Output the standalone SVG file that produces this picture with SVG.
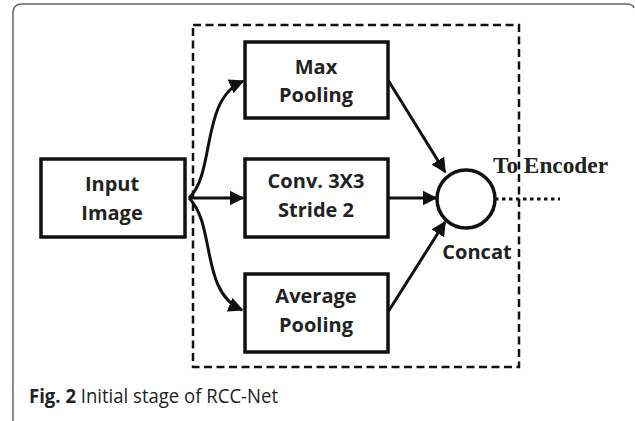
<svg xmlns="http://www.w3.org/2000/svg" width="635" height="421" viewBox="0 0 635 421">
<defs>
<style>
.box{fill:#fff;stroke:#111;stroke-width:3.5}
.lbl{font-family:"Open Sans","Liberation Sans",sans-serif;font-weight:bold;font-size:20px;fill:#222;text-anchor:middle}
.conn{fill:none;stroke:#111;stroke-width:3;marker-end:url(#ah)}
.cap{font-family:"Open Sans","Liberation Sans",sans-serif;font-size:20px;fill:#222}
</style>
<marker id="ah" viewBox="0 0 10 10" refX="9" refY="5" markerWidth="5" markerHeight="5" orient="auto" markerUnits="strokeWidth">
<path d="M0,0 L10,5 L0,10 z" fill="#111"/>
</marker>
</defs>
<rect width="635" height="421" fill="#fff"/>
<path d="M13,421 L13,13 Q13,4 22,4 L626,4 Q633,4 634,8" fill="none" stroke="#666" stroke-width="1.5"/>
<rect id="stage" x="193" y="25" width="326" height="342" fill="none" stroke="#111" stroke-width="2.5" stroke-dasharray="8,4.5"/>
<g id="connectors">
<path class="conn" d="M189,198 C216,172 200,100 243,81"/>
<path class="conn" d="M189,198 L243,198"/>
<path class="conn" d="M189,198 C216,225 200,292 242,310"/>
<path class="conn" d="M388,80 L445,172"/>
<path class="conn" d="M388,198 L436,198"/>
<path class="conn" d="M388,312 L445,222"/>
<path d="M495,199 L560,199" fill="none" stroke="#111" stroke-width="3" stroke-dasharray="3.5,3.5"/>
</g>
<g id="input"><rect class="box" x="41" y="159" width="144" height="78"/><text class="lbl" x="112" y="191">Input</text><text class="lbl" x="112" y="220">Image</text></g>
<g id="maxpool"><rect class="box" x="245" y="42" width="143" height="76"/><text class="lbl" x="316" y="74">Max</text><text class="lbl" x="316" y="102">Pooling</text></g>
<g id="conv"><rect class="box" x="245" y="159" width="143" height="78"/><text class="lbl" x="316" y="188">Conv. 3X3</text><text class="lbl" x="316" y="217">Stride 2</text></g>
<g id="avgpool"><rect class="box" x="245" y="274" width="143" height="78"/><text class="lbl" x="316" y="303">Average</text><text class="lbl" x="316" y="332">Pooling</text></g>
<g id="concat"><circle cx="466" cy="199" r="29" fill="#fff" stroke="#111" stroke-width="3.5"/><text class="lbl" x="477" y="259">Concat</text></g>
<text x="493" y="173" font-family="'Liberation Serif',serif" font-weight="bold" font-size="23" fill="#222" textLength="115" lengthAdjust="spacingAndGlyphs">To Encoder</text>
<text class="cap" x="29" y="403" textLength="249" lengthAdjust="spacingAndGlyphs"><tspan font-weight="bold">Fig. 2</tspan> Initial stage of RCC-Net</text>
</svg>
